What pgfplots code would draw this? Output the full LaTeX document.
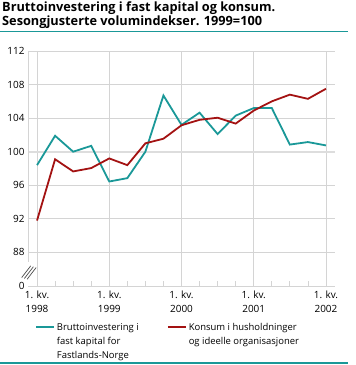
\documentclass[border=0pt]{standalone}
\usepackage{pgfplots}
\pgfplotsset{compat=1.18}
\usepackage{fontspec}
\setmainfont{Open Sans}
\definecolor{teal1}{RGB}{26,152,152}
\definecolor{red1}{RGB}{163,18,18}
\definecolor{grid1}{RGB}{212,212,212}
\begin{document}
\begin{tikzpicture}[x=1bp,y=1bp]
\path[use as bounding box] (0,0) rectangle (356,365);
\node[anchor=north west, align=left, font=\bfseries\fontsize{12.8}{14}\selectfont, inner sep=0] at (2,363) {Bruttoinvestering i fast kapital og konsum.\\Sesongjusterte volumindekser. 1999=100};
\draw[teal1, line width=1.3bp] (0,333.5) -- (348,333.5);
\draw[teal1, line width=1.3bp] (0,2) -- (348,2);
\begin{axis}[at={(28bp,79bp)}, anchor=south west, scale only axis, width=307bp, height=235bp,
 xmin=-0.5, xmax=16.5, ymin=84, ymax=112,
 axis line style={draw=none},
 xtick={0,4,8,12,16},
 xticklabels={{1. kv.\\1998},{1. kv.\\1999},{1. kv.\\2000},{1. kv.\\2001},{1. kv.\\2002}},
 minor xtick={1,2,3,5,6,7,9,10,11,13,14,15},
 major tick length=0pt, minor tick length=5bp, tick align=inside,
 xtick pos=bottom, ytick pos=left,
 minor tick style={grid1, line width=0.8bp},
 ytick={84,88,...,112},
 yticklabels={0,88,92,96,100,104,108,112},
 xmajorgrids, ymajorgrids,
 major grid style={grid1, line width=0.8bp},
 /pgf/number format/assume math mode=true,
 tick label style={font=\fontsize{10}{14}\selectfont},
 xticklabel style={align=center, yshift=-1bp},
 yticklabel style={xshift=0bp},
 legend columns=2,
 legend style={at={(0.013,-0.14)}, anchor=north west, draw=none, fill=none,
   font=\fontsize{9.5}{14}\selectfont,
   cells={anchor=base west},
   /tikz/every even column/.append style={column sep=4bp}},
 legend image code/.code={\draw[#1, line width=1.8bp] (0bp,0.3em) -- (18bp,0.3em);},
 clip=false,
]
\draw[grid1!80, line width=2bp] (axis cs:-0.5,100) -- (axis cs:16.5,100);
\draw[grid1, line width=0.8bp] (axis cs:-0.5,112) -- (axis cs:-0.5,86.9);
\draw[black!70, line width=0.7bp] (axis cs:-0.85,85.0) -- (axis cs:-0.35,86.4);
\draw[black!70, line width=0.7bp] (axis cs:-0.7,84.9) -- (axis cs:-0.2,86.3);
\draw[black!70, line width=0.7bp] (axis cs:-0.55,84.8) -- (axis cs:-0.05,86.2);
\addplot[teal1, line width=1.8bp] coordinates {
(0,98.4) (1,101.9) (2,100.0) (3,100.7) (4,96.45) (5,96.85) (6,100.0) (7,106.7)
(8,103.2) (9,104.65) (10,102.1) (11,104.3) (12,105.2) (13,105.2) (14,100.85) (15,101.15) (16,100.75)};
\addlegendentry{\parbox[t]{104bp}{Bruttoinvestering i\\fast kapital for\\Fastlands-Norge}}
\addplot[red1, line width=1.8bp] coordinates {
(0,91.8) (1,99.1) (2,97.65) (3,98.05) (4,99.2) (5,98.4) (6,101.0) (7,101.55)
(8,103.15) (9,103.8) (10,104.05) (11,103.35) (12,104.9) (13,106.0) (14,106.8) (15,106.3) (16,107.5)};
\addlegendentry{\parbox[t]{150bp}{Konsum i husholdninger\\og ideelle organisasjoner}}
\end{axis}
\end{tikzpicture}
\end{document}
